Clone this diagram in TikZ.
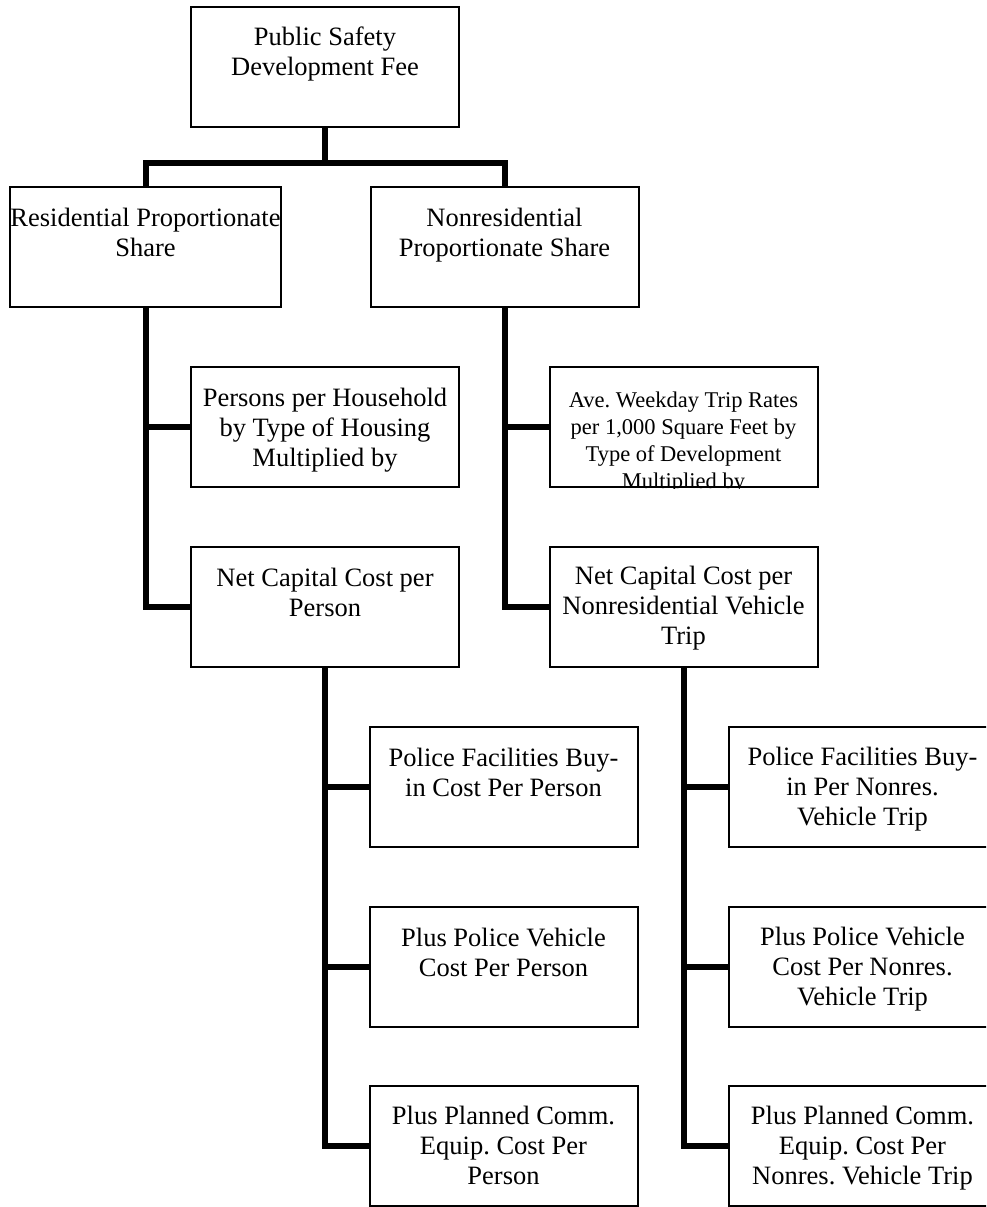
\documentclass[tikz,border=0pt]{standalone}
\usepackage{fontspec}
\setmainfont{Liberation Serif}
\frenchspacing
\begin{document}
\begin{tikzpicture}[x=1pt,y=-1pt,
  box/.style={draw=black, line width=2pt, minimum width=268pt, minimum height=120pt, inner sep=0pt},
  txt/.style={anchor=base, align=center, inner sep=0pt, font=\fontsize{26.5}{30}\selectfont},
  smalltxt/.style={anchor=base, align=center, inner sep=0pt, font=\fontsize{22.5}{27}\selectfont},
  conn/.style={line width=6pt, line join=miter, line cap=butt}]
\useasboundingbox (0,0) rectangle (986,1207);
\clip (0,0) rectangle (986,1207);
% boxes
\node[box] (top) at (325,67) {};
\node[box, minimum width=271pt] (res) at (145.5,247) {};
\node[box] (nonres) at (504.5,247) {};
\node[box] (persons) at (325,427) {};
\node[box] (ave) at (683.5,427) {};
\node[box] (netres) at (325,607) {};
\node[box] (netnon) at (683.5,607) {};
\node[box] (polres) at (503.5,787) {};
\node[box] (vehres) at (503.5,967) {};
\node[box] (planres) at (503.5,1146) {};
\node[box] (polnon) at (862.5,787) {};
\node[box] (vehnon) at (862.5,967) {};
\node[box] (plannon) at (862.5,1146) {};
% texts (anchor = baseline of the last line)
\node[txt] (ttop) at ([yshift=-70pt]top.north) {Public Safety\\Development Fee};
\node[txt] (tres) at ([yshift=-70pt]res.north) {Residential Proportionate\\Share};
\node[txt] (tnonres) at ([yshift=-70pt]nonres.north) {Nonresidential\\Proportionate Share};
\node[txt] (tpersons) at ([yshift=-100pt]persons.north) {Persons per Household\\by Type of Housing\\Multiplied by};
\begin{scope}
  \clip (ave.north west) rectangle (ave.south east);
  \node[smalltxt] (tave) at ([yshift=-122pt]ave.north) {Ave. Weekday Trip Rates\\per 1,000 Square Feet by\\Type of Development\\Multiplied by};
\end{scope}
\node[txt] (tnetres) at ([yshift=-70pt]netres.north) {Net Capital Cost per\\Person};
\node[txt] (tnetnon) at ([yshift=-98pt]netnon.north) {Net Capital Cost per\\Nonresidential Vehicle\\Trip};
\node[txt] (tpolres) at ([yshift=-70pt]polres.north) {Police Facilities Buy-\\in Cost Per Person};
\node[txt] (tvehres) at ([yshift=-70pt]vehres.north) {Plus Police Vehicle\\Cost Per Person};
\node[txt] (tplanres) at ([yshift=-99pt]planres.north) {Plus Planned Comm.\\Equip. Cost Per\\Person};
\node[txt] (tpolnon) at ([yshift=-99pt]polnon.north) {Police Facilities Buy-\\in Per Nonres.\\Vehicle Trip};
\node[txt] (tvehnon) at ([yshift=-99pt]vehnon.north) {Plus Police Vehicle\\Cost Per Nonres.\\Vehicle Trip};
\node[txt] (tplannon) at ([yshift=-99pt]plannon.north) {Plus Planned Comm.\\Equip. Cost Per\\Nonres. Vehicle Trip};
% connectors
\coordinate (j) at (325,163);
\draw[conn] (top.south) -- (j);
\draw[conn] (res.north) |- (j) -| (nonres.north);
\draw[conn] (res.south) |- (netres.west);
\draw[conn] (res.south |- persons.west) -- (persons.west);
\draw[conn] (nonres.south) |- (netnon.west);
\draw[conn] (nonres.south |- ave.west) -- (ave.west);
\draw[conn] (netres.south) |- (planres.west);
\draw[conn] (netres.south |- polres.west) -- (polres.west);
\draw[conn] (netres.south |- vehres.west) -- (vehres.west);
\draw[conn] (netnon.south) |- (plannon.west);
\draw[conn] (netnon.south |- polnon.west) -- (polnon.west);
\draw[conn] (netnon.south |- vehnon.west) -- (vehnon.west);
\end{tikzpicture}
\end{document}
